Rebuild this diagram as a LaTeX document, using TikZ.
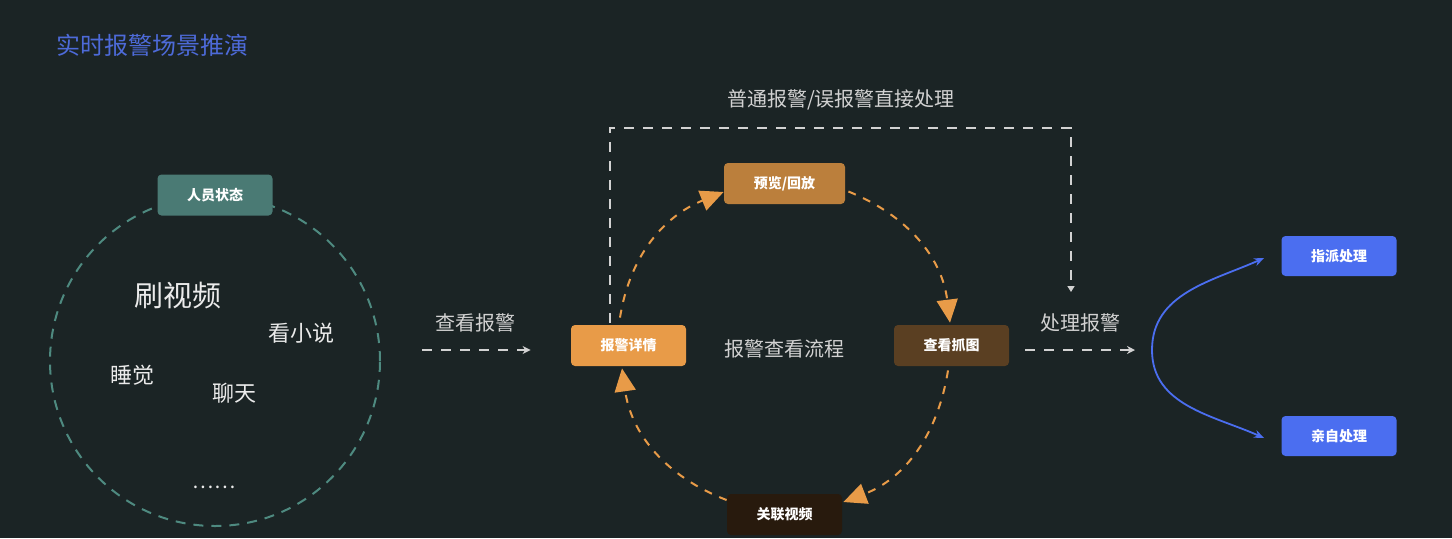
\documentclass[tikz,border=0pt]{standalone}
\usepackage{fontspec}
\setmainfont{Noto Sans CJK SC}
\usepackage{xcolor}
\definecolor{scnBack}{RGB}{27, 36, 37}
\definecolor{scnTitle}{RGB}{77, 106, 216}
\definecolor{scnTeal}{RGB}{78, 138, 128}
\definecolor{scnTag}{RGB}{74, 122, 116}
\definecolor{scnOrange}{RGB}{232, 155, 72}
\definecolor{scnAmber}{RGB}{187, 127, 60}
\definecolor{scnBrown}{RGB}{90, 63, 34}
\definecolor{scnDeep}{RGB}{40, 26, 13}
\definecolor{scnBlue}{RGB}{75, 110, 240}
\definecolor{scnGray}{RGB}{210, 210, 210}
\usepackage{tikz}
\usetikzlibrary{
    arrows.meta,
    positioning
}

\begin{document}
\begin{tikzpicture}[
    x=0.5pt, y=0.5pt,
    flowBox/.style={
        rectangle, rounded corners=2pt,
        text=white, font=\fontsize{7}{8}\selectfont\bfseries,
        align=center, inner sep=0pt,
        minimum width=57.5pt, minimum height=20.5pt
    },
    stateRing/.style={
        circle, draw=scnTeal, line width=1pt,
        dash pattern=on 5pt off 4pt,
        minimum size=165pt, inner sep=0pt
    },
    stateWord/.style={
        text=white!92!black, inner sep=0pt,
        font=\fontsize{11}{12}\selectfont
    },
    flowLabel/.style={
        text=scnGray, inner sep=0pt,
        font=\fontsize{10}{11}\selectfont
    },
    cycleArrow/.style={
        -{Triangle[length=11.5pt, width=10.5pt]}, line width=1pt,
        draw=scnOrange, dash pattern=on 4pt off 4pt
    },
    dashArrow/.style={
        -{Stealth[length=4pt, width=4pt]}, line width=0.8pt,
        draw=scnGray, dash pattern=on 5pt off 4.5pt
    },
    forkArrow/.style={
        -{Stealth[length=5pt, width=4pt]}, line width=0.9pt, draw=scnBlue
    }
]

    % Canvas
    \fill[scnBack] (0,0) rectangle (1452,-538);
    \node[text=scnTitle, font=\fontsize{12}{13}\selectfont, anchor=west, inner sep=0pt]
        (title) at (56,-45) {实时报警场景推演};

    % Staff state
    \node[stateRing] (ring) at (215,-361) {};
    \node[flowBox, fill=scnTag] (state) at (ring.north) {人员状态};
    \node[stateWord, font=\fontsize{14.5}{15}\selectfont] (video) at (178,-295) {刷视频};
    \node[stateWord] (novel) at (301,-333) {看小说};
    \node[stateWord] (sleep) at (132,-375) {睡觉};
    \node[stateWord] (chat) at (234,-393) {聊天};
    \node[stateWord, font=\fontsize{10}{11}\selectfont] (more) at (214,-487) {……};

    % Alarm check cycle
    \node[flowBox, fill=scnOrange] (detail) at (628.5,-345.5) {报警详情};
    \node[flowBox, fill=scnAmber, minimum width=60.5pt] (preview) at (784.5,-183.5) {预览/回放};
    \node[flowBox, fill=scnBrown] (grab) at (951.5,-345.5) {查看抓图};
    \node[flowBox, fill=scnDeep] (related) at (784.5,-514.5) {关联视频};
    \node[flowLabel] (cycleName) at (784,-349) {报警查看流程};

    % Handling
    \node[flowBox, fill=scnBlue, minimum height=20pt] (assign) at (1339,-256) {指派处理};
    \node[flowBox, fill=scnBlue, minimum height=20pt] (self) at (1339,-436) {亲自处理};
    \coordinate (fork) at (1152,-350);
    \coordinate (loopTop) at (1071,-128);
    \coordinate (merge) at (1071,-292);

    % Flows
    \draw[dashArrow, shorten <=20.5pt, shorten >=20pt] (ring.east |- fork) -- node[flowLabel, above=8.5pt] (checkText) {查看报警} (detail.west |- fork);

    \draw[cycleArrow] ([xshift=-4.25pt, yshift=3.5pt]detail.north) to[out=81, in=202] ([yshift=-4.25pt]preview.west);
    \draw[cycleArrow] ([xshift=1.5pt, yshift=-4pt]preview.east) to[out=-22, in=97] ([xshift=-0.75pt, yshift=1pt]grab.north);
    \draw[cycleArrow] ([xshift=-1.75pt, yshift=-2pt]grab.south) to[out=-99, in=21] ([xshift=0.5pt, yshift=6.25pt]related.east);
    \draw[cycleArrow] ([yshift=7.25pt]related.west) to[out=159, in=-82] ([xshift=-3.25pt, yshift=-1pt]detail.south);

    \draw[dashArrow, -{Triangle[length=3pt, width=3.5pt]}] ([xshift=-9.25pt, yshift=1pt]detail.north) |- (loopTop) -- (merge);
    \node[flowLabel] (directText) at (841,-100) {普通报警/误报警直接处理};

    \draw[dashArrow, shorten <=8pt, shorten >=8.5pt] (grab.east |- fork) -- node[flowLabel, above=8.5pt] (handleText) {处理报警} (fork);

    \draw[forkArrow] (fork) to[out=90, in=204] ([xshift=-8.5pt, yshift=-1pt]assign.west);
    \draw[forkArrow] (fork) to[out=-90, in=156] ([xshift=-8.5pt, yshift=-1pt]self.west);

\end{tikzpicture}
\end{document}
